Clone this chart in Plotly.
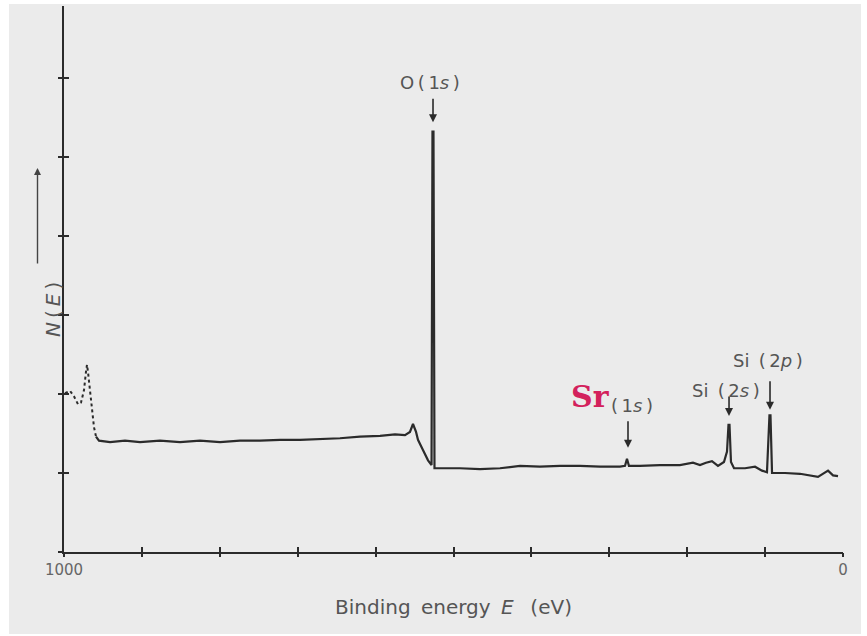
import plotly.graph_objects as go

# ---- data (binding energy in eV, N(E) in arbitrary units) ----
dotted_ev = [998.7, 992.3, 987.2, 982.0, 978.2, 974.3, 971.8, 970.5, 969.2, 966.6, 964.1, 961.5, 958.9]
dotted_n = [2.01, 2.04, 1.97, 1.87, 1.89, 2.05, 2.28, 2.37, 2.28, 2.03, 1.77, 1.58, 1.46]

solid_ev = [958.9, 955.1, 940.9, 921.7, 902.4, 876.8, 851.1, 825.4, 799.7, 774.1, 748.4, 722.7,
            697.0, 671.4, 645.7, 620.0, 594.3, 575.1, 562.3, 555.9, 552.0, 548.1, 545.6, 539.2,
            532.7, 528.2, 527.0, 525.7, 524.4, 517.3, 491.7, 466.0, 440.3, 414.6, 389.0, 363.3,
            337.6, 311.9, 286.3, 279.8, 277.3, 274.8, 260.7, 235.1, 209.4, 192.6, 183.6, 175.9,
            168.2, 160.5, 152.8, 148.9, 147.0, 145.7, 143.8, 139.9, 125.8, 112.9, 104.0, 97.6,
            94.4, 93.1, 91.1, 74.4, 55.2, 32.1, 25.7, 19.2, 12.8, 6.4]
solid_n = [1.46, 1.41, 1.39, 1.41, 1.39, 1.41, 1.39, 1.41, 1.39, 1.41, 1.41, 1.42,
           1.42, 1.43, 1.44, 1.46, 1.47, 1.49, 1.48, 1.52, 1.62, 1.52, 1.42, 1.29,
           1.16, 1.10, 5.32, 5.32, 1.06, 1.06, 1.06, 1.05, 1.06, 1.09, 1.08, 1.09,
           1.09, 1.08, 1.08, 1.09, 1.18, 1.09, 1.09, 1.10, 1.10, 1.13, 1.10, 1.13,
           1.15, 1.09, 1.14, 1.27, 1.61, 1.61, 1.14, 1.06, 1.06, 1.08, 1.03, 1.01,
           1.73, 1.73, 1.00, 1.00, 0.99, 0.95, 0.99, 1.03, 0.97, 0.96]

x_tickvals = [1000, 900, 800, 700, 600, 500, 400, 300, 200, 100, 0]
x_ticktext = ["1000", "", "", "", "", "", "", "", "", "", "0"]
y_tickvals = [0, 1, 2, 3, 4, 5, 6]

TS = "\u2009"  # thin space used for the wide lettering
peak_labels = ["O" + TS + "(" + TS + "1<i>s</i>" + TS + ")",
               "(" + TS + "1<i>s</i>" + TS + ")",
               "Si" + TS + " (" + TS + "2<i>s</i>" + TS + ")",
               "Si" + TS + " (" + TS + "2<i>p</i>" + TS + ")"]
peak_label_ev = [530.2, 270.9, 150.2, 96.3]
peak_label_n = [5.94, 1.86, 2.05, 2.43]
arrow_ev = [526.3, 276.0, 146.3, 93.7]
arrow_n = [5.44, 1.32, 1.72, 1.80]
arrow_len = [25, 28, 21, 30]

# ---- layout geometry ----
W, H = 867, 636
L, R, T, B = 64, 24, 6, 84
PW, PH = W - L - R, H - T - B
YMAX = PH / 79.0

INK = "#2b2b2b"
TXT = "#555555"
FONT = "DejaVu Sans"

def px(xp):
    return (xp - L) / PW

def py(yp):
    return (H - B - yp) / PH

fig = go.Figure()
fig.add_trace(go.Scatter(x=dotted_ev, y=dotted_n, mode="lines",
                         line=dict(color=INK, width=2, dash="dot"), hoverinfo="skip"))
fig.add_trace(go.Scatter(x=solid_ev, y=solid_n, mode="lines",
                         line=dict(color=INK, width=2.2), hoverinfo="skip"))
fig.add_trace(go.Scatter(x=[], y=[], xaxis="x2", yaxis="y2", showlegend=False))

ann = []
for t, xe, yn in zip(peak_labels, peak_label_ev, peak_label_n):
    ann.append(dict(x=xe, y=yn, text=t, showarrow=False,
                    font=dict(family=FONT, size=18, color=TXT)))
for xe, yn, al in zip(arrow_ev, arrow_n, arrow_len):
    ann.append(dict(x=xe, y=yn, text="", showarrow=True, ax=0, ay=-al,
                    arrowhead=2, arrowsize=1, arrowwidth=1.6, arrowcolor=INK))
# red overprinted "Sr"
ann.append(dict(x=323.5, y=1.97, text="<b>Sr</b>", showarrow=False,
                font=dict(family="DejaVu Serif", size=30, color="#d3215c")))
# y-axis label with arrow
ann.append(dict(xref="paper", yref="paper", x=px(39), y=py(310),
                text="<i>N</i>" + TS + "(" + TS + "<i>E</i>" + TS + ")",
                textangle=-90, showarrow=False, font=dict(family=FONT, size=20, color=TXT)))
ann.append(dict(xref="paper", yref="paper", x=px(37.5), y=py(168), text="", showarrow=True,
                ax=0, ay=97, arrowhead=2, arrowsize=1, arrowwidth=1.4, arrowcolor="#444"))

fig.update_layout(
    width=W, height=H,
    margin=dict(l=L, r=R, t=T, b=B),
    paper_bgcolor="white",
    plot_bgcolor="rgba(0,0,0,0)",
    showlegend=False,
    font=dict(family=FONT, color=TXT),
    xaxis=dict(range=[1000, 0], showgrid=False, zeroline=False, showline=True,
               linecolor=INK, linewidth=2, ticks="inside", ticklen=5, tickwidth=2,
               tickcolor=INK, tickvals=x_tickvals, ticktext=x_ticktext,
               tickfont=dict(family=FONT, size=15, color="#666"),
               ticklabelstandoff=3,
               title=dict(text="Binding" + TS + " energy" + TS + " <i>E</i>" + TS + "  (eV)",
                          standoff=22,
                          font=dict(family=FONT, size=20, color=TXT))),
    yaxis=dict(range=[0, YMAX], showgrid=False, zeroline=False, showline=True,
               linecolor=INK, linewidth=2, ticks="inside", ticklen=5, tickwidth=2,
               tickcolor=INK, tickvals=y_tickvals, showticklabels=False),
    xaxis2=dict(range=[1000, 0], overlaying="x", anchor="y", side="bottom",
                showgrid=False, zeroline=False, showline=False, ticks="outside",
                ticklen=4, tickwidth=2, tickcolor=INK, tickvals=x_tickvals,
                showticklabels=False),
    yaxis2=dict(range=[0, YMAX], overlaying="y", anchor="x", side="left",
                showgrid=False, zeroline=False, showline=False, ticks="outside",
                ticklen=5, tickwidth=2, tickcolor=INK, tickvals=y_tickvals,
                showticklabels=False),
    annotations=ann,
    shapes=[dict(type="rect", xref="paper", yref="paper", layer="below",
                 x0=px(9), x1=px(861), y0=py(634), y1=py(4),
                 fillcolor="#ebebeb", line=dict(width=0))],
)

fig.write_html("out.html", config={"displayModeBar": False},
               post_script="document.body.style.margin='0';")
